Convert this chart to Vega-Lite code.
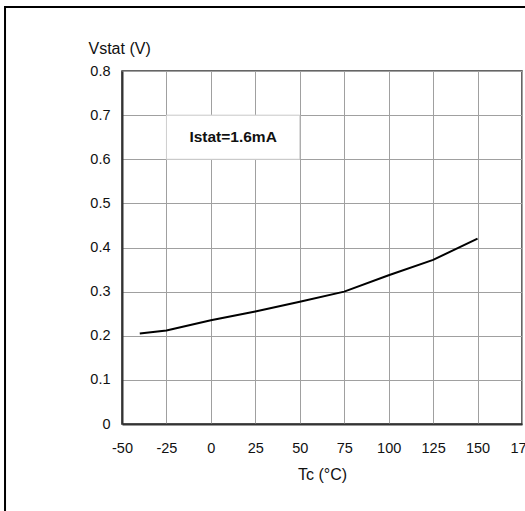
{
  "$schema": "https://vega.github.io/schema/vega-lite/v6.json",
  "autosize": "none",
  "width": 400,
  "height": 353,
  "padding": {"left": 122, "top": 71, "right": 3, "bottom": 87},
  "background": "white",
  "config": {
    "view": {"stroke": "#333333", "strokeWidth": 1.5},
    "font": "Liberation Sans",
    "axis": {
      "labelFont": "Liberation Sans",
      "labelFontSize": 14.5,
      "labelColor": "#111111",
      "titleFont": "Liberation Sans",
      "titleFontSize": 16,
      "titleFontWeight": "normal",
      "titleColor": "#111111",
      "gridColor": "#a0a0a0",
      "gridWidth": 1,
      "gridOpacity": 1,
      "domainColor": "#333333",
      "domainWidth": 2,
      "ticks": false,
      "labelAngle": 0
    }
  },
  "datasets": {
    "curve": [
      {"T": -40, "V": 0.205},
      {"T": -25, "V": 0.212},
      {"T": 0, "V": 0.235},
      {"T": 25, "V": 0.255},
      {"T": 50, "V": 0.277},
      {"T": 75, "V": 0.3},
      {"T": 100, "V": 0.337},
      {"T": 125, "V": 0.372},
      {"T": 150, "V": 0.42}
    ],
    "box": [{"T": -25, "T2": 50, "V": 0.6, "V2": 0.7, "label": "Istat=1.6mA", "Tm": 12.5, "Vm": 0.65}],
    "frame": [{"T": -115.8, "T2": 215, "V": -0.35, "V2": 0.945}]
  },
  "layer": [
    {
      "data": {"name": "curve"},
      "mark": {"type": "line", "color": "black", "strokeWidth": 2},
      "encoding": {
        "x": {
          "field": "T", "type": "quantitative",
          "scale": {"domain": [-50, 175], "nice": false, "zero": false},
          "axis": {
            "title": "Tc (°C)",
            "values": [-50, -25, 0, 25, 50, 75, 100, 125, 150, 175],
            "labelExpr": "datum.value < 0 ? '-' + abs(datum.value) : '' + datum.value",
            "labelPadding": 17,
            "titlePadding": 12,
            "labelFlush": false,
            "labelOverlap": false
          }
        },
        "y": {
          "field": "V", "type": "quantitative",
          "scale": {"domain": [0, 0.8], "nice": false, "zero": false},
          "axis": {
            "title": "Vstat (V)",
            "values": [0, 0.1, 0.2, 0.3, 0.4, 0.5, 0.6, 0.7, 0.8],
            "format": ".1~f",
            "labelPadding": 12,
            "titleAngle": 0,
            "titleAlign": "left",
            "titleBaseline": "middle",
            "titleX": -34,
            "titleY": -23,
            "labelFlush": false,
            "labelOverlap": false
          }
        }
      }
    },
    {
      "data": {"name": "box"},
      "mark": {"type": "rect", "fill": "white", "stroke": "#d0d0d0", "strokeWidth": 1},
      "encoding": {
        "x": {"field": "T", "type": "quantitative"},
        "x2": {"field": "T2"},
        "y": {"field": "V", "type": "quantitative"},
        "y2": {"field": "V2"}
      }
    },
    {
      "data": {"name": "box"},
      "mark": {"type": "text", "fontWeight": "bold", "fontSize": 15.5, "font": "Liberation Sans", "align": "center", "baseline": "middle", "color": "#111111"},
      "encoding": {
        "x": {"field": "Tm", "type": "quantitative"},
        "y": {"field": "Vm", "type": "quantitative"},
        "text": {"field": "label"}
      }
    },
    {
      "data": {"name": "frame"},
      "mark": {"type": "rect", "fill": null, "fillOpacity": 0, "stroke": "black", "strokeWidth": 2, "clip": false},
      "encoding": {
        "x": {"field": "T", "type": "quantitative"},
        "x2": {"field": "T2"},
        "y": {"field": "V", "type": "quantitative"},
        "y2": {"field": "V2"}
      }
    }
  ]
}
